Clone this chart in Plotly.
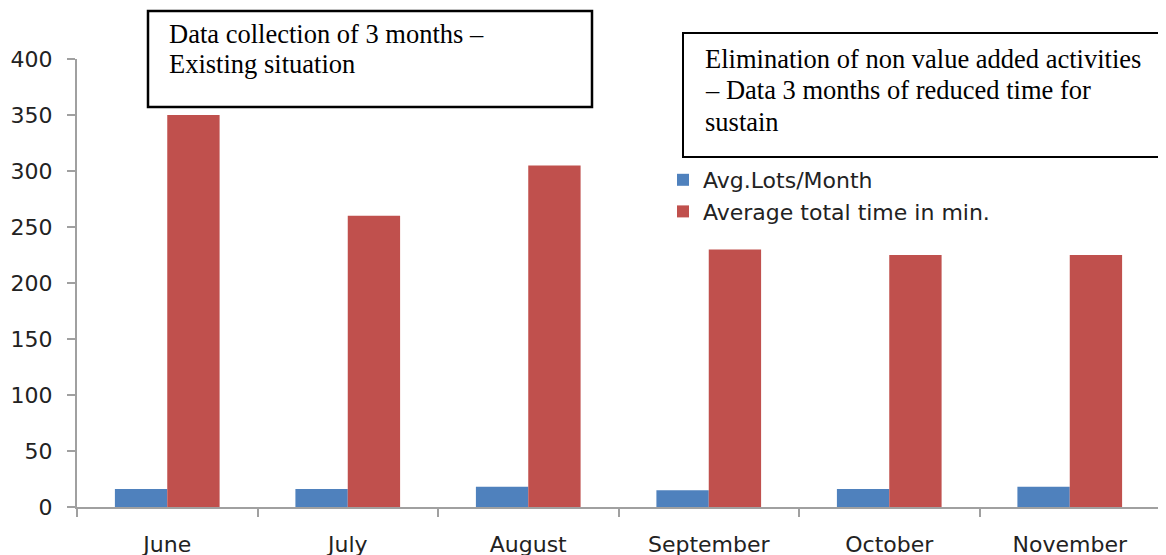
import plotly.graph_objects as go

months = ["June", "July", "August", "September", "October", "November"]
avg_lots = [16, 16, 18, 15, 16, 18]
avg_time = [350, 260, 305, 230, 225, 225]
y_ticks = [0, 50, 100, 150, 200, 250, 300, 350, 400]

box1_lines = ["Data collection of 3 months –", "Existing situation"]
box2_lines = ["Elimination of non value added activities",
              "– Data 3 months of reduced time for", "sustain"]

fig = go.Figure()
fig.add_trace(go.Bar(x=months, y=avg_lots, name="Avg.Lots/Month",
                     marker=dict(color="#4F81BD", line=dict(width=0))))
fig.add_trace(go.Bar(x=months, y=avg_time, name="Average total time in min.",
                     marker=dict(color="#C0504D", line=dict(width=0))))

axis_font = dict(family="DejaVu Sans", size=22, color="#222222")

# plot area on screen: x 77..1160, y 59..507 (page has an 8px body offset)
def px(x):
    return (x - 77) / 1083

def py(y):
    return (507 - y) / 448

serif = dict(family="Liberation Serif", size=26.5, color="black")
annotations = []
for i, t in enumerate(box1_lines):
    annotations.append(dict(xref="paper", yref="paper", x=px(167), y=py(33.5 + 31 * i),
                            xanchor="left", yanchor="middle", showarrow=False,
                            text=t, font=serif))
for i, t in enumerate(box2_lines):
    annotations.append(dict(xref="paper", yref="paper", x=px(703), y=py(58.5 + 31.5 * i),
                            xanchor="left", yanchor="middle", showarrow=False,
                            text=t, font=serif))

fig.update_layout(
    width=1166, height=555,
    margin=dict(l=69, r=14, t=51, b=56, autoexpand=False),
    paper_bgcolor="white", plot_bgcolor="white",
    barmode="group", bargap=0.42, bargroupgap=0,
    showlegend=True,
    legend=dict(x=px(663), y=py(159), xanchor="left", yanchor="top",
                font=dict(family="DejaVu Sans", size=22, color="#222222"),
                bgcolor="rgba(0,0,0,0)", tracegroupgap=0, itemwidth=30),
    xaxis=dict(showline=True, linecolor="#A0A0A0", linewidth=2,
               ticks="outside", tickson="boundaries", ticklen=8, tickcolor="#A0A0A0",
               tickwidth=2, tickfont=axis_font, showgrid=False, automargin=False,
               ticklabelstandoff=17),
    yaxis=dict(range=[0, 400], tickvals=y_ticks, showline=True, linecolor="#A0A0A0",
               linewidth=2, ticks="outside", ticklen=8, tickcolor="#A0A0A0", tickwidth=2,
               tickfont=axis_font, showgrid=False, zeroline=False, automargin=False,
               ticklabelstandoff=10),
    shapes=[
        dict(type="rect", xref="paper", yref="paper", x0=px(148), x1=px(592),
             y0=py(107), y1=py(11), line=dict(color="black", width=2.5),
             fillcolor="white", layer="above"),
        dict(type="rect", xref="paper", yref="paper", x0=px(683), x1=px(1165),
             y0=py(157), y1=py(33), line=dict(color="black", width=2),
             fillcolor="white", layer="above"),
    ],
    annotations=annotations,
)

fig.write_html("out.html")
